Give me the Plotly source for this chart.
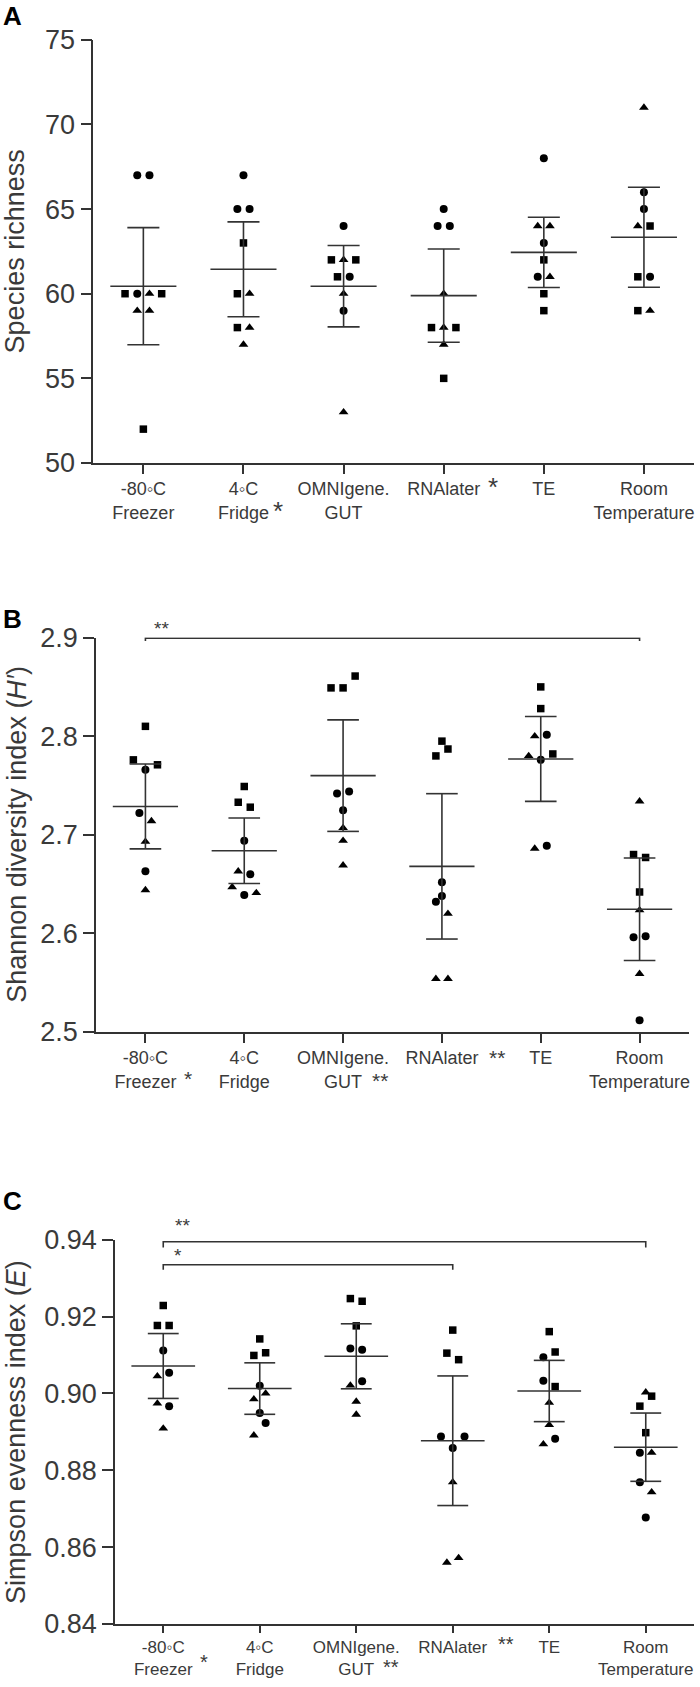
import numpy as np
import plotly.graph_objects as go

W, H = 700, 1687

CATEGORIES = ["-80◦C<br>Freezer", "4◦C<br>Fridge", "OMNIgene.<br>GUT", "RNAlater", "TE", "Room<br>Temperature"]

# ---------------- Panel A: species richness ----------------
A_VALUES = [
    [67, 67, 60, 60, 60, 60, 59, 59, 52],
    [67, 65, 65, 63, 60, 60, 58, 58, 57],
    [64, 62, 62, 62, 61, 61, 60, 59, 53],
    [65, 64, 64, 60, 58, 58, 58, 57, 55],
    [68, 64, 64, 63, 62, 61, 61, 60, 59],
    [71, 66, 65, 64, 64, 61, 61, 59, 59],
]
A_SYMBOLS = [
    ["c", "c", "s", "c", "t", "s", "t", "t", "s"],
    ["c", "c", "c", "s", "s", "t", "s", "t", "t"],
    ["c", "s", "t", "s", "s", "c", "t", "c", "t"],
    ["c", "c", "c", "t", "s", "t", "s", "t", "s"],
    ["c", "t", "t", "c", "s", "c", "t", "s", "s"],
    ["t", "c", "c", "t", "s", "s", "c", "s", "t"],
]
A_TICKS = [50, 55, 60, 65, 70, 75]
A_STARS = ["", "*", "", "*", "", ""]

# ---------------- Panel B: Shannon diversity ----------------
B_VALUES = [
    [2.810, 2.776, 2.766, 2.771, 2.722, 2.714, 2.693, 2.663, 2.644],
    [2.749, 2.733, 2.728, 2.694, 2.663, 2.660, 2.647, 2.639, 2.641],
    [2.861, 2.849, 2.849, 2.742, 2.744, 2.725, 2.707, 2.694, 2.669],
    [2.795, 2.787, 2.780, 2.652, 2.638, 2.632, 2.620, 2.554, 2.554],
    [2.850, 2.828, 2.800, 2.8015, 2.780, 2.776, 2.782, 2.686, 2.689],
    [2.734, 2.680, 2.677, 2.642, 2.6235, 2.596, 2.597, 2.559, 2.512],
]
B_SYMBOLS = [
    ["s", "s", "c", "s", "c", "t", "t", "c", "t"],
    ["s", "s", "s", "c", "t", "c", "t", "c", "t"],
    ["s", "s", "s", "c", "c", "c", "t", "t", "t"],
    ["s", "s", "s", "c", "c", "c", "t", "t", "t"],
    ["s", "s", "t", "c", "t", "c", "s", "t", "c"],
    ["t", "s", "s", "s", "t", "c", "c", "t", "c"],
]
B_TICKS = [2.5, 2.6, 2.7, 2.8, 2.9]
B_STARS = ["*", "", "**", "**", "", ""]
B_COMPARISONS = [(0, 5, "**")]

# ---------------- Panel C: Simpson evenness ----------------
C_VALUES = [
    [0.9229, 0.9177, 0.9177, 0.9112, 0.9045, 0.9054, 0.8974, 0.8967, 0.8909],
    [0.9142, 0.9099, 0.9106, 0.9020, 0.8985, 0.9000, 0.8949, 0.8923, 0.8891],
    [0.9247, 0.9240, 0.9176, 0.9117, 0.9114, 0.9021, 0.9032, 0.8979, 0.8945],
    [0.9165, 0.9105, 0.9088, 0.8888, 0.8888, 0.8858, 0.8769, 0.8560, 0.8572],
    [0.9161, 0.9108, 0.9094, 0.9033, 0.9018, 0.8976, 0.8918, 0.8868, 0.8882],
    [0.9003, 0.8993, 0.8967, 0.8898, 0.8846, 0.8846, 0.8769, 0.8743, 0.8677],
]
C_SYMBOLS = [
    ["s", "s", "s", "c", "t", "c", "t", "c", "t"],
    ["s", "s", "s", "c", "t", "t", "c", "c", "t"],
    ["s", "s", "s", "c", "c", "t", "c", "t", "t"],
    ["s", "s", "s", "c", "c", "c", "t", "t", "t"],
    ["s", "s", "c", "c", "s", "t", "t", "t", "c"],
    ["t", "s", "s", "s", "c", "t", "c", "t", "c"],
]
C_TICKS = [0.84, 0.86, 0.88, 0.90, 0.92, 0.94]
C_STARS = ["*", "", "**", "**", "", ""]
C_COMPARISONS = [(0, 5, "**"), (0, 3, "*")]

# ---------------- layout / style (not data) ----------------
# horizontal spread of overlapping points, in half-steps
A_JITTER = [
    [-1, 1, -3, -1, 1, 3, -1, 1, 0],
    [0, -1, 1, 0, -1, 1, -1, 1, 0],
    [0, -2, 0, 2, -1, 1, 0, 0, 0],
    [0, -1, 1, 0, -2, 0, 2, 0, 0],
    [0, -1, 1, 0, 0, -1, 1, 0, 0],
    [0, 0, 0, -1, 1, -1, 1, -1, 1],
]
B_JITTER = [
    [0, -2, 0, 2, -1, 1, 0, 0, 0],
    [0, -1, 1, 0, -1, 1, -2, 0, 2],
    [2, -2, 0, -1, 1, 0, 0, 0, 0],
    [0, 1, -1, 0, 0, -1, 1, -1, 1],
    [0, 0, -1, 1, -2, 0, 2, -1, 1],
    [0, -1, 1, 0, 0, -1, 1, 0, 0],
]
C_JITTER = [
    [0, -1, 1, 0, -1, 1, -1, 1, 0],
    [0, -1, 1, 0, -1, 1, 0, 1, -1],
    [-1, 1, 0, -1, 1, -1, 1, 0, 0],
    [0, -1, 1, -2, 2, 0, 0, -1, 1],
    [0, 1, -1, -1, 1, 0, 0, -1, 1],
    [0, 1, -1, 0, -1, 1, -1, 1, 0],
]
HALF_STEP = 0.061
SYM = {"c": "circle", "s": "square", "t": "triangle-up"}
SYM_SIZE = {"c": 8, "s": 7.5, "t": 8.5}
T975 = {8: 2.306}
INK = "#333333"
TXT = "#3a3a3a"
FONT = "Liberation Sans"


def px(x):
    return x / W


def py(y):
    return 1 - y / H


panels = [
    dict(values=A_VALUES, symbols=A_SYMBOLS, jitter=A_JITTER, ticks=A_TICKS, fmt="d",
         stars=A_STARS, star_pos=[None, (0.34, 48), None, (0.49, 24), None, None], star_size=26,
         comps=[], comp_style=[], xticklen=9, xfont=18,
         xpx=(93.3, 694), ypx=(463, 39.8), title="Species richness", title_x=15,
         letter="A", letter_y=0, letter_anchor="top"),
    dict(values=B_VALUES, symbols=B_SYMBOLS, jitter=B_JITTER, ticks=B_TICKS, fmt=".1f",
         stars=B_STARS, star_pos=[(0.43, 46), None, (0.37, 48), (0.56, 25), None, None], star_size=21,
         comps=B_COMPARISONS, comp_style=[(2.8995, 0.003, 0.16, 9.5)], xticklen=9, xfont=18,
         xpx=(96, 689), ypx=(1032, 637.6), title="Shannon diversity index (<i>H′</i>)", title_x=17,
         letter="B", letter_y=619, letter_anchor="middle"),
    dict(values=C_VALUES, symbols=C_SYMBOLS, jitter=C_JITTER, ticks=C_TICKS, fmt=".2f",
         stars=C_STARS, star_pos=[(0.42, 38), None, (0.36, 43), (0.55, 20), None, None], star_size=20,
         comps=C_COMPARISONS, comp_style=[(0.9395, 0.0015, 0.2, 16), (0.9335, 0.0013, 0.155, 9.5)],
         xticklen=7, xfont=17,
         xpx=(115, 694), ypx=(1624, 1239.8), title="Simpson evenness index (<i>E</i>)", title_x=16,
         letter="C", letter_y=1201, letter_anchor="middle"),
]

fig = go.Figure()
annotations = []
layout_axes = {}

for i, p in enumerate(panels, start=1):
    xa = "x" if i == 1 else f"x{i}"
    ya = "y" if i == 1 else f"y{i}"
    x0, x1 = p["xpx"]
    yb, yt = p["ypx"]
    lo_v, hi_v = p["ticks"][0], p["ticks"][-1]

    def val_to_px(v, yb=yb, yt=yt, lo_v=lo_v, hi_v=hi_v):
        return yb - (v - lo_v) / (hi_v - lo_v) * (yb - yt)

    # points
    for g, (vals, syms, jit) in enumerate(zip(p["values"], p["symbols"], p["jitter"])):
        for s in ["c", "s", "t"]:
            xs = [g + j * HALF_STEP for v, sy, j in zip(vals, syms, jit) if sy == s]
            ys = [v for v, sy in zip(vals, syms) if sy == s]
            if not xs:
                continue
            fig.add_trace(go.Scatter(
                x=xs, y=ys, mode="markers", xaxis=xa, yaxis=ya, showlegend=False,
                cliponaxis=False, hoverinfo="skip",
                marker=dict(symbol=SYM[s], size=SYM_SIZE[s], color="black", line=dict(width=0)),
            ))
    # mean and 95% CI of the mean
    lx, ly = [], []
    for g, vals in enumerate(p["values"]):
        arr = np.asarray(vals, dtype=float)
        m = arr.mean()
        ci = T975[len(arr) - 1] * arr.std(ddof=1) / np.sqrt(len(arr))
        lo, hi = m - ci, m + ci
        lx += [g - 0.33, g + 0.33, None, g, g, None, g - 0.16, g + 0.16, None, g - 0.16, g + 0.16, None]
        ly += [m, m, None, lo, hi, None, hi, hi, None, lo, lo, None]
    fig.add_trace(go.Scatter(x=lx, y=ly, mode="lines", xaxis=xa, yaxis=ya, showlegend=False,
                             hoverinfo="skip", line=dict(color=INK, width=1.6)))
    # comparison brackets
    for (a, b, txt), (lev, drop, tx, above) in zip(p["comps"], p["comp_style"]):
        fig.add_trace(go.Scatter(x=[a, a, b, b], y=[lev - drop, lev, lev, lev - drop], mode="lines",
                                 xaxis=xa, yaxis=ya, showlegend=False, hoverinfo="skip",
                                 line=dict(color=INK, width=1.6)))
        annotations.append(dict(x=a + tx, y=py(val_to_px(lev) - above), xref=xa, yref="paper",
                                text=txt, showarrow=False, xanchor="center", yanchor="middle",
                                font=dict(family=FONT, size=19, color=TXT)))
    # asterisks next to category labels
    for g, (st, pos) in enumerate(zip(p["stars"], p["star_pos"])):
        if st and pos:
            annotations.append(dict(x=g + pos[0], y=py(yb + pos[1]), xref=xa, yref="paper", text=st,
                                    showarrow=False, xanchor="center", yanchor="middle",
                                    font=dict(family=FONT, size=p["star_size"], color=TXT)))
    # axes
    layout_axes["xaxis" if i == 1 else f"xaxis{i}"] = dict(
        domain=[px(x0), px(x1)], range=[-0.5, 5.5], anchor=ya, automargin=False,
        tickmode="array", tickvals=list(range(len(CATEGORIES))), ticktext=CATEGORIES,
        showline=True, linecolor=INK, linewidth=1.6, ticks="outside", ticklen=p["xticklen"], tickwidth=1.6,
        tickcolor=INK, showgrid=False, zeroline=False,
        tickfont=dict(family=FONT, size=p["xfont"], color=TXT),
    )
    layout_axes["yaxis" if i == 1 else f"yaxis{i}"] = dict(
        domain=[py(yb), py(yt)], range=[lo_v, hi_v], anchor=xa, automargin=False,
        tickmode="array", tickvals=p["ticks"], tickformat=p["fmt"],
        showline=True, linecolor=INK, linewidth=1.6, ticks="outside", ticklen=11, tickwidth=1.6,
        tickcolor=INK, showgrid=False, zeroline=False,
        tickfont=dict(family=FONT, size=27, color=TXT),
    )
    # axis title
    annotations.append(dict(x=px(p["title_x"]), y=py((yb + yt) / 2), xref="paper", yref="paper",
                            text=p["title"], textangle=-90, showarrow=False,
                            xanchor="center", yanchor="middle",
                            font=dict(family=FONT, size=27, color=TXT)))
    # panel letter
    annotations.append(dict(x=px(12), y=py(p["letter_y"]), xref="paper", yref="paper",
                            text=f"<b>{p['letter']}</b>", showarrow=False,
                            xanchor="center", yanchor=p["letter_anchor"], borderpad=0,
                            font=dict(family=FONT, size=26, color="black")))

fig.update_layout(
    width=W, height=H, margin=dict(l=0, r=0, t=0, b=0, autoexpand=False),
    plot_bgcolor="white", paper_bgcolor="white",
    annotations=annotations, **layout_axes,
)

fig.write_html("out.html", config={"displayModeBar": False},
               post_script="document.body.style.margin='0px';")
